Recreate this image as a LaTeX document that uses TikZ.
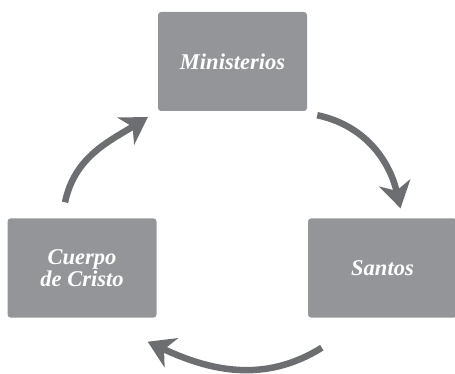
\documentclass[tikz,border=0pt]{standalone}
\usepackage{fontspec}
\setmainfont{Liberation Serif}
\usetikzlibrary{arrows.meta}
\definecolor{boxgray}{HTML}{939598}
\definecolor{arrowgray}{HTML}{6D6E71}
\tikzset{
stage/.style={
	  fill=boxgray, rounded corners=3pt, text=white, align=center,
	    minimum width=149pt, minimum height=99pt,
    font=\fontsize{22.5}{20}\selectfont\bfseries\itshape},
cycle/.style={
	  draw=arrowgray, line width=6.5pt,
	    -{Stealth[length=26pt,width=32pt,inset=8pt]}}
}

\begin{document}
\begin{tikzpicture}[x=1pt, y=1pt]
	\useasboundingbox (0,0) rectangle (455,-374);
	\node[stage] (mini) at (232.5,-61.5) {Ministerios};
	\node[stage] (santos) at (382.5,-268) {Santos};
	\node[stage] (cuerpo) at (82,-268) {Cuerpo\\de Cristo};
	\draw[cycle] ([shift={(10,-4)}]mini.south east) to[out=-12, in=103]
		([shift={(18,10)}]santos.north);
	\draw[cycle] ([shift={(14,-30)}]santos.south west) to[out=212, in=-25]
		([shift={(-9,-24)}]cuerpo.south east);
	\draw[cycle] ([shift={(-17,16)}]cuerpo.north) to[out=78, in=212]
		([shift={(-10,-6)}]mini.south west);
\end{tikzpicture}
\end{document}
